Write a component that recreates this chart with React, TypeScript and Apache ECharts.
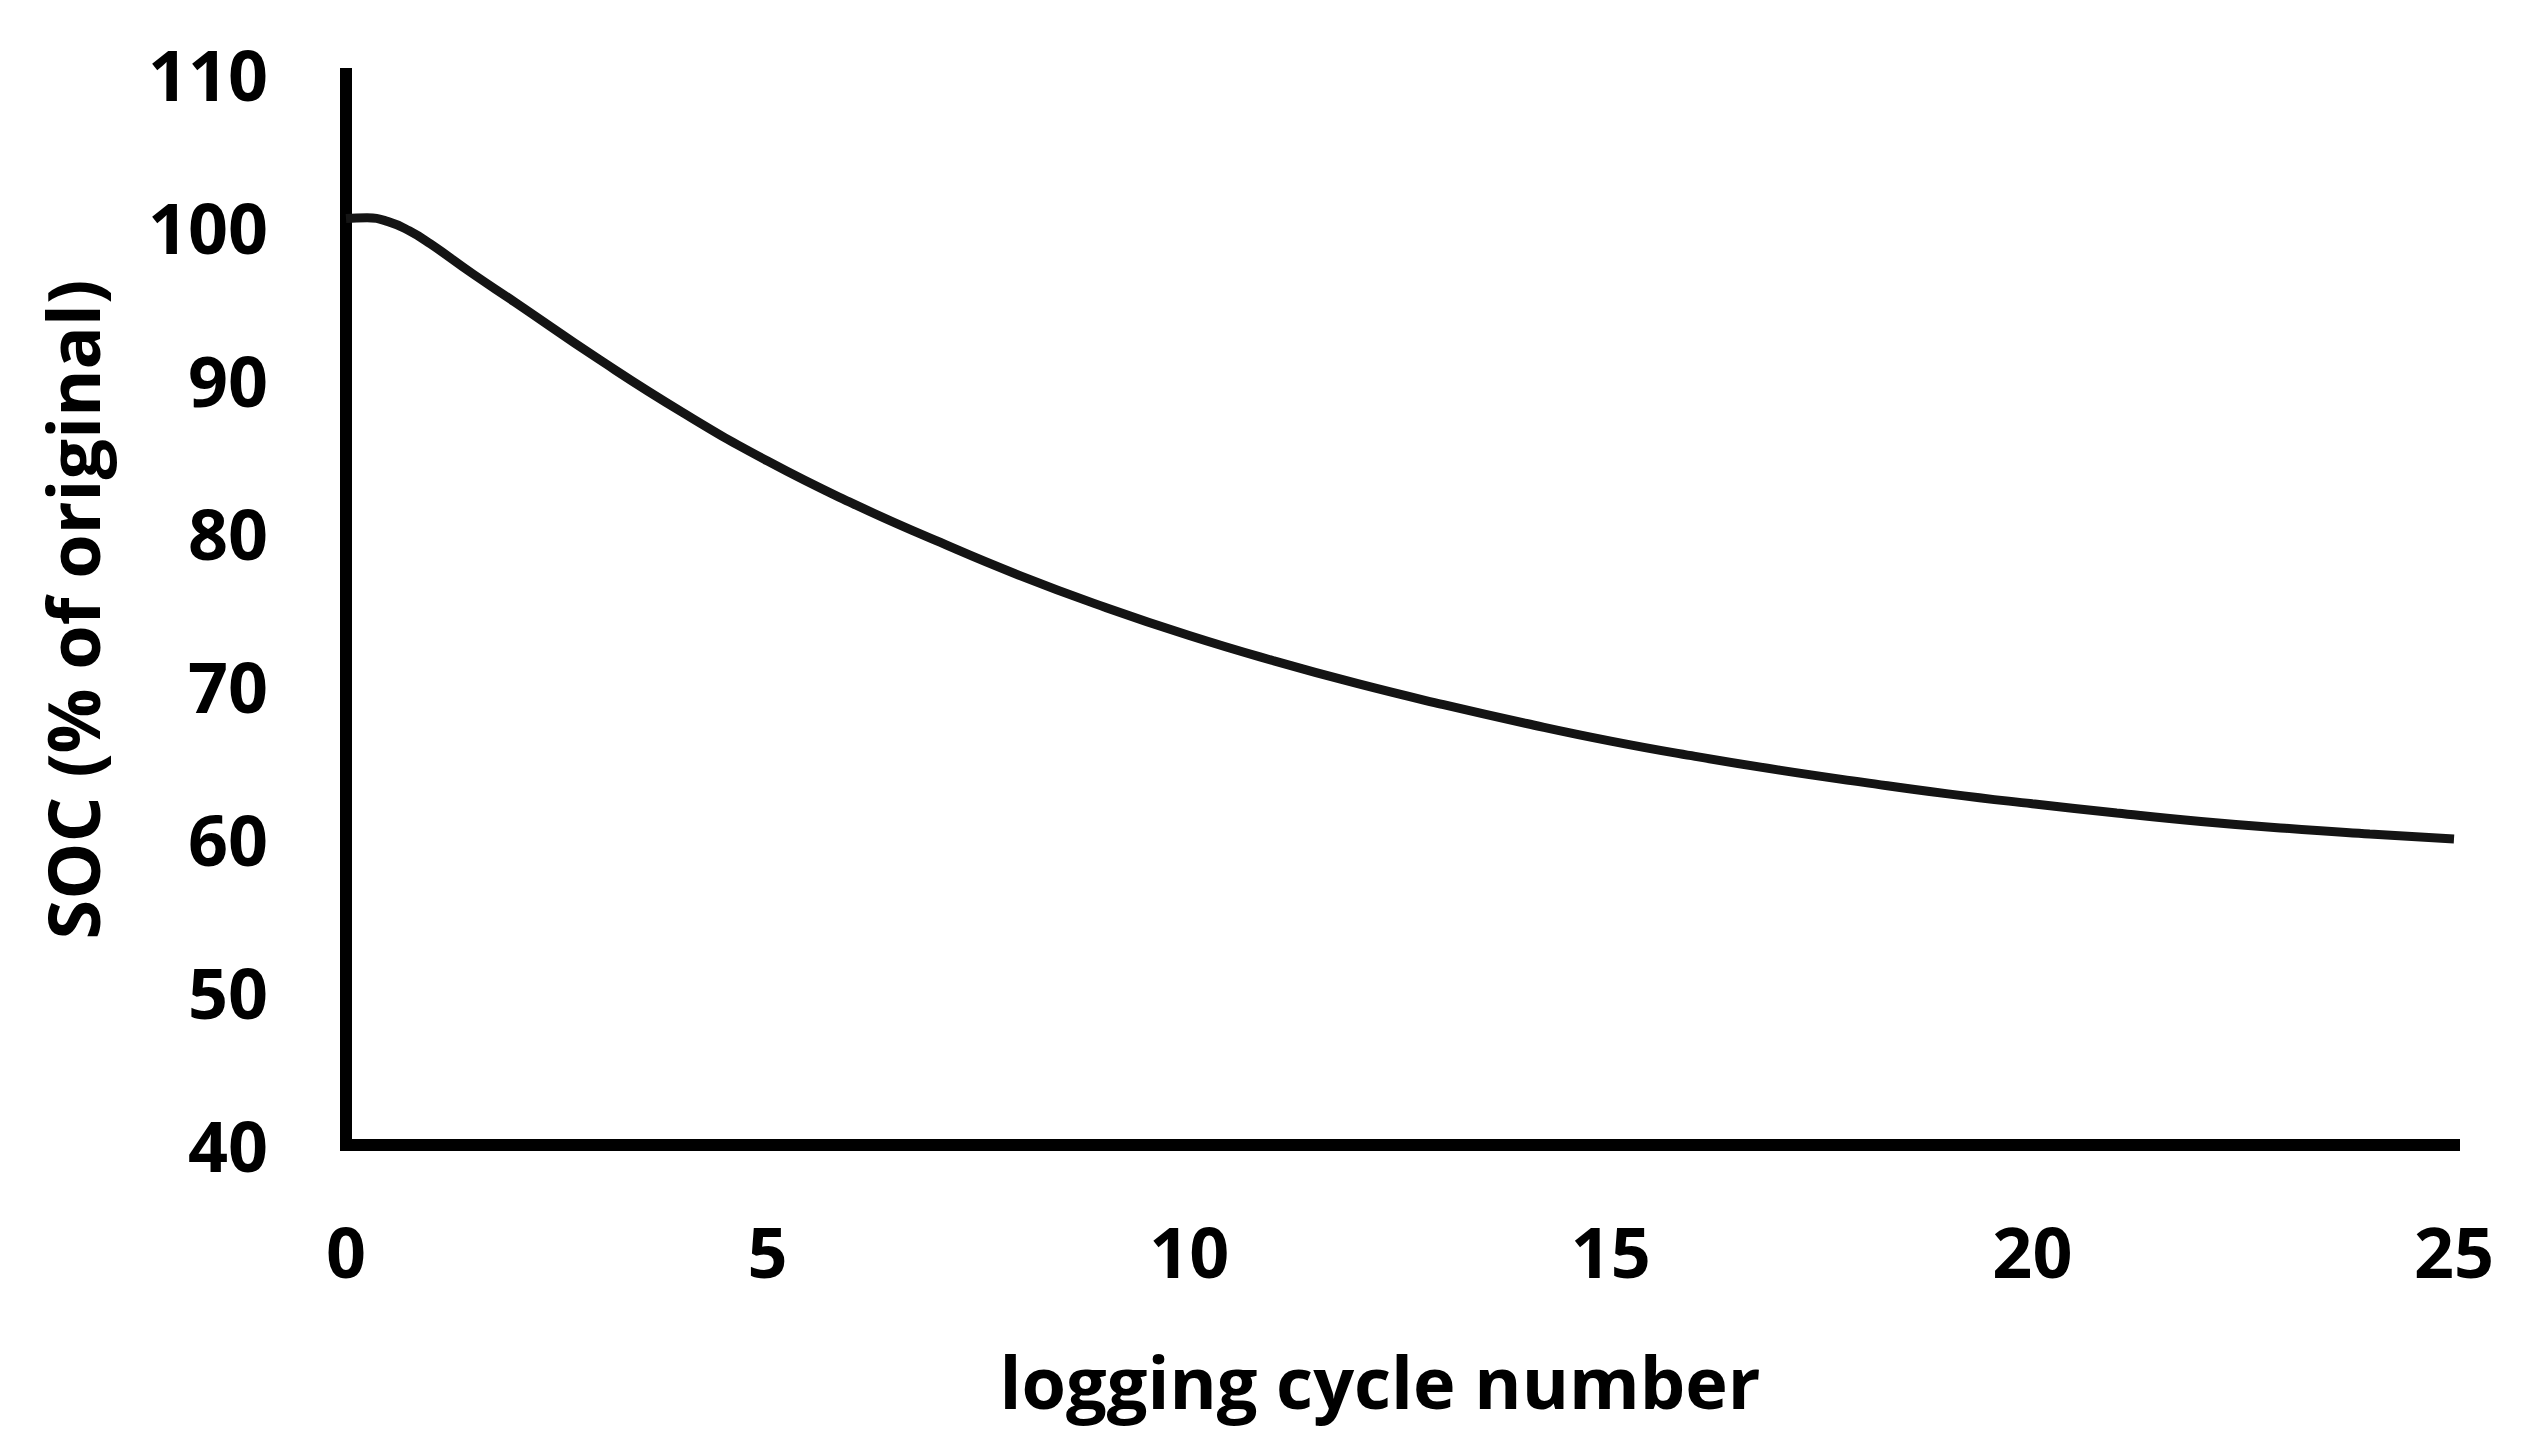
import React, { useEffect, useRef } from "react";
import * as echarts from "echarts";

// Data
const cycleNumbers = [
  0, 0.25, 0.5, 0.75, 1, 1.5, 2, 3, 4, 5, 6, 7, 8, 9, 10, 11, 12, 13, 14, 15, 16,
  17, 18, 19, 20, 21, 22, 23, 24, 25,
];
const socValues = [
  100.55, 100.6, 100.35, 99.75, 98.9, 96.95, 95.1, 91.35, 87.85, 84.7, 81.95, 79.5,
  77.2, 75.15, 73.3, 71.65, 70.15, 68.8, 67.55, 66.4, 65.4, 64.5, 63.7, 62.95,
  62.3, 61.7, 61.15, 60.7, 60.33, 60.0,
];
const xAxisRange = [0, 25];
const xTickStep = 5;
const yAxisRange = [40, 110];
const yTickStep = 10;
const xAxisTitle = "logging cycle number";
const yAxisTitle = "SOC (% of original)";

const FONT = "'Open Sans', 'Noto Sans', 'DejaVu Sans', sans-serif";

export default function App() {
  const ref = useRef<HTMLDivElement>(null);

  useEffect(() => {
    document.body.style.margin = "0";
    document.body.style.overflow = "hidden";
    if (!ref.current) return;
    const chart = echarts.init(ref.current, undefined, { renderer: "svg" });

    const seriesData = cycleNumbers.map((x, i) => [x, socValues[i]]);

    chart.setOption({
      animation: false,
      backgroundColor: "#ffffff",
      grid: { left: 346, right: 72, top: 74, bottom: 306, containLabel: false },
      xAxis: {
        type: "value",
        min: xAxisRange[0],
        max: xAxisRange[1],
        interval: xTickStep,
        name: xAxisTitle,
        nameLocation: "middle",
        nameGap: 196,
        nameTextStyle: {
          fontFamily: FONT,
          fontWeight: "bold",
          fontSize: 72,
          color: "#000",
          lineHeight: 80,
          padding: [0, 40, 0, 0],
        },
        axisLine: { show: true, onZero: false, lineStyle: { color: "#000", width: 12, cap: "square" } },
        axisTick: { show: false },
        splitLine: { show: false },
        axisLabel: {
          margin: 70,
          fontFamily: FONT,
          fontWeight: "bold",
          fontSize: 70,
          lineHeight: 72,
          color: "#000",
        },
      },
      yAxis: {
        type: "value",
        min: yAxisRange[0],
        max: yAxisRange[1],
        interval: yTickStep,
        name: yAxisTitle,
        nameLocation: "middle",
        nameGap: 234,
        nameTextStyle: {
          fontFamily: FONT,
          fontWeight: "bold",
          fontSize: 72,
          color: "#000",
          lineHeight: 80,
        },
        axisLine: { show: true, onZero: false, lineStyle: { color: "#000", width: 12, cap: "square" } },
        axisTick: { show: false },
        splitLine: { show: false },
        axisLabel: {
          margin: 78,
          fontFamily: FONT,
          fontWeight: "bold",
          fontSize: 70,
          color: "#000",
        },
      },
      series: [
        {
          type: "line",
          data: seriesData,
          smooth: 0.5,
          showSymbol: false,
          symbol: "none",
          lineStyle: { color: "#141414", width: 9 },
        },
      ],
    });

    return () => {
      chart.dispose();
    };
  }, []);

  return <div ref={ref} style={{ width: 2526, height: 1451 }} />;
}
